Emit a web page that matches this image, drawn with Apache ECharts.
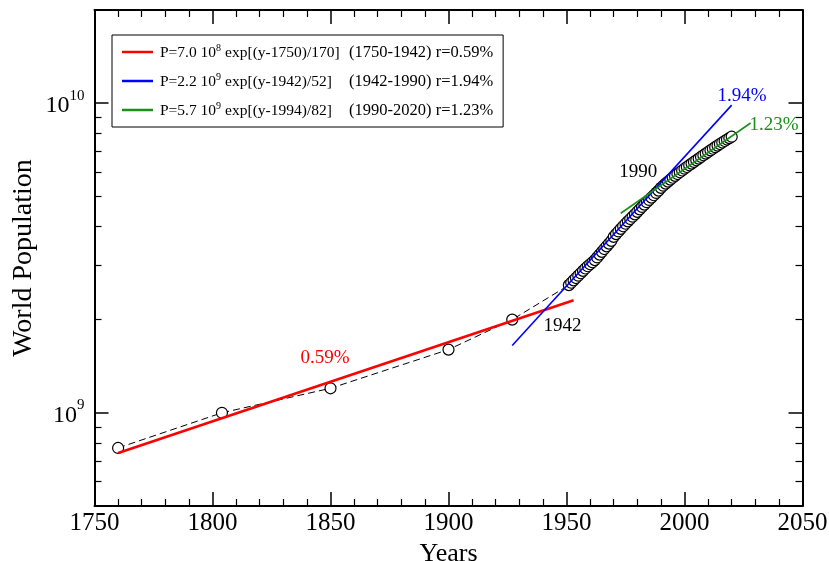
<!DOCTYPE html>
<html><head><meta charset="utf-8">
<script src="https://cdn.jsdelivr.net/npm/echarts@6/dist/echarts.min.js"></script>
<style>html,body{margin:0;padding:0;background:#fff}#c{width:829px;height:561px}</style>
</head><body><div id="c"></div>
<script>
// ---- data (population in billions) ----
const dataYears = [1760, 1804, 1850, 1900, 1927,
  1951, 1952, 1953, 1954, 1955, 1956, 1957, 1958, 1959, 1960,
  1961, 1962, 1963, 1964, 1965, 1966, 1967, 1968, 1969, 1970,
  1971, 1972, 1973, 1974, 1975, 1976, 1977, 1978, 1979, 1980,
  1981, 1982, 1983, 1984, 1985, 1986, 1987, 1988, 1989, 1990,
  1991, 1992, 1993, 1994, 1995, 1996, 1997, 1998, 1999, 2000,
  2001, 2002, 2003, 2004, 2005, 2006, 2007, 2008, 2009, 2010,
  2011, 2012, 2013, 2014, 2015, 2016, 2017, 2018, 2019, 2020];
const dataValues = [0.77, 1.0, 1.2, 1.6, 2.0,
  2.584, 2.631, 2.677, 2.724, 2.773, 2.822, 2.873, 2.925, 2.974, 3.019,
  3.063, 3.113, 3.176, 3.243, 3.310, 3.380, 3.449, 3.519, 3.592, 3.700,
  3.777, 3.852, 3.928, 4.003, 4.079, 4.152, 4.225, 4.300, 4.376, 4.458,
  4.541, 4.623, 4.705, 4.788, 4.871, 4.956, 5.043, 5.131, 5.219, 5.327,
  5.414, 5.498, 5.581, 5.663, 5.744, 5.824, 5.904, 5.983, 6.062, 6.143,
  6.222, 6.301, 6.381, 6.460, 6.541, 6.623, 6.705, 6.789, 6.873, 6.957,
  7.042, 7.127, 7.211, 7.296, 7.380, 7.464, 7.548, 7.631, 7.713, 7.795];
const unit = 1e9;

const redFitYears = [1760, 1953];
const redFitValues = [0.742, 2.31];
const blueFitYears = [1927, 2020];
const blueFitValues = [1.65, 9.86];
const greenFitYears = [1973, 2028];
const greenFitValues = [4.41, 8.63];

const legendCoef = ['P=7.0 10', 'P=2.2 10', 'P=5.7 10'];
const legendPow = ['8', '9', '9'];
const legendFormula = ['exp[(y-1750)/170]', 'exp[(y-1942)/52]', 'exp[(y-1994)/82]'];
const legendRange = ['(1750-1942) r=0.59%', '(1942-1990) r=1.94%', '(1990-2020) r=1.23%'];

const annoTexts = ['0.59%', '1942', '1990', '1.94%', '1.23%'];
const annoYears = [1847.7, 1948.3, 1980.4, 2024.4, 2037.9];
const annoValues = [1.50, 1.91, 5.98, 10.57, 8.52];

const xTickLabels = [1750, 1800, 1850, 1900, 1950, 2000, 2050];
const yMajorExps = [9, 10];
const yMinorValues = [6e8, 7e8, 8e8, 9e8, 2e9, 3e9, 4e9, 5e9, 6e9, 7e9, 8e9, 9e9];
const yMin = 5e8, yMax = 2e10;

// ---- styles ----
const FONT = '"Liberation Serif", "DejaVu Serif", serif';
const RED = '#ff0000', BLUE = '#0000ff', GREEN = '#1a8f1a', BLACK = '#000000';
const annoColors = [RED, BLACK, BLACK, BLUE, GREEN];
const fitColors = [RED, BLUE, GREEN];

const seriesNames = legendCoef.map((c, i) => c + '^' + legendPow[i] + ' ' + legendFormula[i] + ' ' + legendRange[i]);
const pair = (ys, vs) => ys.map((y, i) => [y, vs[i] * unit]);

const lyMin = Math.log10(yMin), lyMax = Math.log10(yMax);
const minorExps = yMinorValues.map(v => Math.log10(v));

function tickAxis(pos, len, vals, showLine, labels) {
  return {
    type: 'value', min: lyMin, max: lyMax, position: pos,
    axisLine: {show: showLine, lineStyle: {color: BLACK, width: 2}},
    axisTick: {show: true, inside: true, length: len, customValues: vals, lineStyle: {color: BLACK, width: len > 10 ? 1.5 : 1.2}},
    axisLabel: labels ? {
      show: true, customValues: vals, margin: 10, color: BLACK, fontFamily: FONT,
      formatter: v => '{b|10}{s|' + Math.round(v) + '}',
      rich: {
        b: {fontSize: 24, fontFamily: FONT, color: BLACK, lineHeight: 30, verticalAlign: 'bottom'},
        s: {fontSize: 15, fontFamily: FONT, color: BLACK, lineHeight: 15, verticalAlign: 'top'}
      }
    } : {show: false},
    splitLine: {show: false}
  };
}

const chart = echarts.init(document.getElementById('c'), null, {renderer: 'canvas'});
const xCommon = {
  type: 'value', min: 1750, max: 2050, interval: 50,
  axisLine: {show: true, onZero: false, lineStyle: {color: BLACK, width: 2}},
  axisTick: {show: true, inside: true, length: 14, lineStyle: {color: BLACK, width: 1.5}},
  minorTick: {show: true, splitNumber: 5, length: 7, lineStyle: {color: BLACK, width: 1.2}},
  splitLine: {show: false}
};
chart.setOption({
  animation: false,
  backgroundColor: '#fff',
  grid: {left: 94.5, right: 26.5, top: 10, bottom: 55, containLabel: false, outerBoundsMode: 'none'},
  legend: {
    data: seriesNames.map((n, i) => ({name: n, icon: 'rect', itemStyle: {color: fitColors[i]}})),
    orient: 'vertical', left: 112, top: 35,
    padding: [8, 10, 8, 10], itemGap: 11, itemWidth: 31, itemHeight: 2.5,
    borderColor: BLACK, borderWidth: 1, backgroundColor: '#fff',
    selectedMode: false,
    formatter: name => {
      const i = seriesNames.indexOf(name);
      return '{n|' + legendCoef[i] + '}{s|' + legendPow[i] + '}{e|' + legendFormula[i] + '}{c|' + legendRange[i] + '}';
    },
    textStyle: {
      fontFamily: FONT, fontSize: 15.5, color: BLACK,
      rich: {
        n: {fontFamily: FONT, fontSize: 15.5, color: BLACK, lineHeight: 18, verticalAlign: 'bottom', padding: [0, 0, 0, 2]},
        s: {fontFamily: FONT, fontSize: 10, color: BLACK, lineHeight: 10, verticalAlign: 'top'},
        e: {fontFamily: FONT, fontSize: 15.5, color: BLACK, lineHeight: 18, width: 124, padding: [0, 0, 0, 4], verticalAlign: 'bottom'},
        c: {fontFamily: FONT, fontSize: 16.5, color: BLACK, lineHeight: 18, verticalAlign: 'bottom'}
      }
    }
  },
  xAxis: [
    Object.assign({}, xCommon, {
      position: 'bottom',
      axisLabel: {show: true, color: BLACK, fontSize: 25, fontFamily: FONT, margin: 5,
        customValues: xTickLabels, formatter: v => String(v)},
      name: 'Years', nameLocation: 'middle', nameGap: 29,
      nameTextStyle: {fontFamily: FONT, fontSize: 26, color: BLACK}
    }),
    Object.assign({}, xCommon, {position: 'top', axisLabel: {show: false}})
  ],
  yAxis: [
    {
      type: 'log', logBase: 10, min: yMin, max: yMax, position: 'left',
      axisLine: {show: true, lineStyle: {color: BLACK, width: 2}},
      axisTick: {show: false}, axisLabel: {show: false}, splitLine: {show: false},
      name: 'World Population', nameLocation: 'middle', nameGap: 57,
      nameTextStyle: {fontFamily: FONT, fontSize: 28, color: BLACK}
    },
    tickAxis('left', 14, yMajorExps, false, true),
    tickAxis('left', 7, minorExps, false, false),
    tickAxis('right', 14, yMajorExps, true, false),
    tickAxis('right', 7, minorExps, false, false)
  ],
  series: [
    {
      name: 'World population', type: 'line', xAxisIndex: 0, yAxisIndex: 0,
      data: pair(dataYears, dataValues),
      symbol: 'circle', symbolSize: 11, showAllSymbol: true,
      lineStyle: {color: BLACK, width: 1, type: [7, 4]},
      itemStyle: {color: '#fff', borderColor: BLACK, borderWidth: 1.2},
      z: 2
    },
    {
      name: seriesNames[0], type: 'line', data: pair(redFitYears, redFitValues),
      symbol: 'none', lineStyle: {color: RED, width: 2.6}, itemStyle: {color: RED}, z: 3
    },
    {
      name: seriesNames[1], type: 'line', data: pair(blueFitYears, blueFitValues),
      symbol: 'none', lineStyle: {color: BLUE, width: 1.6}, itemStyle: {color: BLUE}, z: 3
    },
    {
      name: seriesNames[2], type: 'line', data: pair(greenFitYears, greenFitValues),
      symbol: 'none', lineStyle: {color: GREEN, width: 1.6}, itemStyle: {color: GREEN}, z: 3
    },
    {
      name: 'annotations', type: 'scatter', symbolSize: 0, z: 4,
      itemStyle: {opacity: 1},
      data: annoTexts.map((t, i) => ({
        value: [annoYears[i], annoValues[i] * unit], name: t,
        label: {color: annoColors[i]}
      })),
      label: {show: true, position: 'inside', formatter: p => p.name,
        fontFamily: FONT, fontSize: 19, align: 'center', verticalAlign: 'middle'},
      silent: true
    }
  ]
});
</script>
</body></html>
